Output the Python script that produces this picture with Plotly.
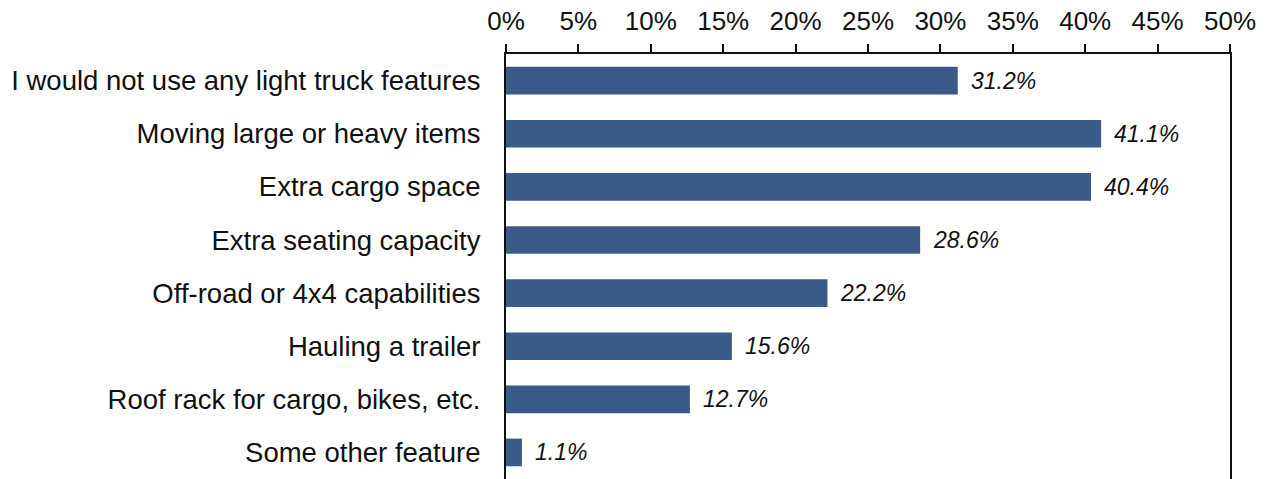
import plotly.graph_objects as go

# Survey responses: share of respondents per light-truck feature
features = [
    "I would not use any light truck features",
    "Moving large or heavy items",
    "Extra cargo space",
    "Extra seating capacity",
    "Off-road or 4x4 capabilities",
    "Hauling a trailer",
    "Roof rack for cargo, bikes, etc.",
    "Some other feature",
]
shares = [31.2, 41.1, 40.4, 28.6, 22.2, 15.6, 12.7, 1.1]
tick_values = [0, 5, 10, 15, 20, 25, 30, 35, 40, 45, 50]
tick_labels = [f"{v}%" for v in tick_values]

FONT = "Liberation Sans, Arial, sans-serif"
BAR_COLOR = "#3A5A87"

fig = go.Figure(
    go.Bar(
        x=shares,
        y=features,
        orientation="h",
        marker=dict(color=BAR_COLOR, line=dict(width=0)),
        width=0.52,
        hoverinfo="x+y",
    )
)

# Italic value labels just past the end of each bar
for feat, val in zip(features, shares):
    fig.add_annotation(
        x=val,
        y=feat,
        text=f"{val:.1f}%",
        showarrow=False,
        xanchor="left",
        yanchor="middle",
        xshift=11,
        font=dict(family=FONT, size=23, color="#111111", style="italic"),
    )

fig.update_layout(
    width=1267,
    height=479,
    margin=dict(l=506, r=37, t=54, b=0, pad=0),
    paper_bgcolor="white",
    plot_bgcolor="white",
    showlegend=False,
    font=dict(family=FONT, color="#111111"),
    xaxis=dict(
        side="top",
        range=[0, 50],
        tickmode="array",
        tickvals=tick_values,
        ticktext=tick_labels,
        ticks="outside",
        ticklen=8,
        tickwidth=1.5,
        tickcolor="#111111",
        showline=True,
        linecolor="#111111",
        linewidth=1.5,
        showgrid=False,
        zeroline=False,
        tickfont=dict(size=26, family=FONT, color="#111111"),
        ticklabelstandoff=4,
        fixedrange=True,
    ),
    yaxis=dict(
        categoryorder="array",
        categoryarray=features[::-1],
        range=[-0.5, len(features) - 0.5],
        showline=True,
        mirror=True,
        linecolor="#111111",
        linewidth=2,
        ticks="",
        showgrid=False,
        zeroline=False,
        tickfont=dict(size=27.5, family=FONT, color="#111111"),
        ticklabelstandoff=18,
        fixedrange=True,
    ),
)

fig.write_html("out.html")
